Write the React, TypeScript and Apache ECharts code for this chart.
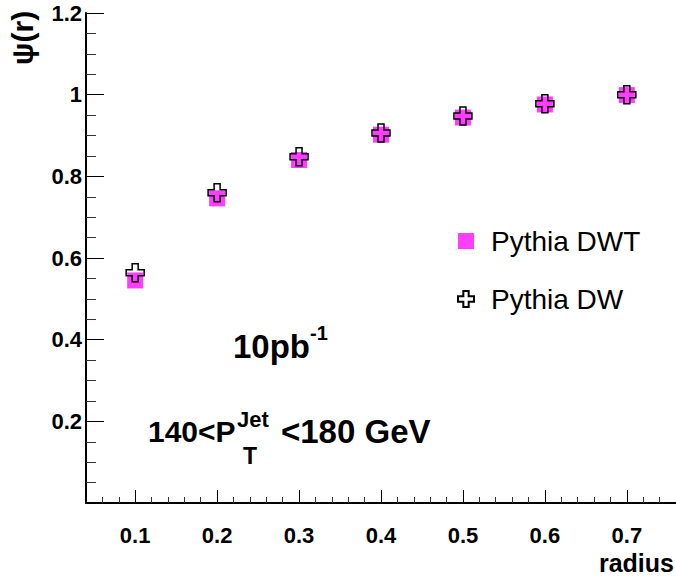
import React, { useEffect, useRef } from "react";
import * as echarts from "echarts";

// Jet shape ψ(r) versus cone radius for two Pythia tunes
const radius = [0.1, 0.2, 0.3, 0.4, 0.5, 0.6, 0.7];
const psiDWT = [0.545, 0.746, 0.84, 0.902, 0.944, 0.976, 0.999];
const psiDW = [0.564, 0.76, 0.848, 0.906, 0.948, 0.978, 1.0];

const seriesNames = ["Pythia DWT", "Pythia DW"];

// Axis ticks
const xMajorTicks = [0.1, 0.2, 0.3, 0.4, 0.5, 0.6, 0.7];
const xMinorTicks = [
  0.06, 0.08, 0.12, 0.14, 0.16, 0.18, 0.22, 0.24, 0.26, 0.28, 0.32, 0.34, 0.36,
  0.38, 0.42, 0.44, 0.46, 0.48, 0.52, 0.54, 0.56, 0.58, 0.62, 0.64, 0.66, 0.68,
  0.72, 0.74,
];
const yTickLabels = ["", "0.2", "0.4", "0.6", "0.8", "1", "1.2"];

const FONT = "'Liberation Sans', Arial, Helvetica, sans-serif";
const MAGENTA = "#ff3dff";
const CROSS = "path://M1 0H2V1H3V2H2V3H1V2H0V1H1Z";

export default function App() {
  const ref = useRef<HTMLDivElement>(null);

  useEffect(() => {
    if (!ref.current) return;
    const chart = echarts.init(ref.current, undefined, { renderer: "svg" });

    const boldText = (text: string, x: number, y: number, size: number, extra: any = {}) => ({
      type: "text",
      x,
      y,
      style: {
        text,
        fill: "#000",
        font: `bold ${size}px ${FONT}`,
        textAlign: "left",
        textVerticalAlign: "middle",
        ...extra,
      },
    });

    chart.setOption({
      animation: false,
      backgroundColor: "#fff",
      grid: { left: 86, top: 13, right: 0, bottom: 74, containLabel: false },
      xAxis: [
        {
          type: "value",
          min: 0.04,
          max: 0.76,
          axisLine: { onZero: false, lineStyle: { color: "#000", width: 2 } },
          axisTick: {
            inside: true,
            length: 13,
            customValues: xMajorTicks,
            lineStyle: { color: "#000", width: 1 },
          },
          axisLabel: {
            customValues: xMajorTicks,
            formatter: (v: number) => v.toFixed(1),
            color: "#000",
            fontFamily: FONT,
            fontWeight: "bold",
            fontSize: 22,
            margin: 21,
          },
          splitLine: { show: false },
        },
        {
          type: "value",
          position: "bottom",
          min: 0.04,
          max: 0.76,
          axisLine: { show: false },
          axisTick: {
            inside: true,
            length: 6,
            customValues: xMinorTicks,
            lineStyle: { color: "#333", width: 1 },
          },
          axisLabel: { show: false },
          splitLine: { show: false },
        },
      ],
      yAxis: {
        type: "value",
        min: 0,
        max: 1.2,
        interval: 0.2,
        axisLine: { onZero: false, lineStyle: { color: "#000", width: 2 } },
        axisTick: { inside: true, length: 18, lineStyle: { color: "#000", width: 1 } },
        minorTick: { show: true, splitNumber: 4, length: 10, lineStyle: { color: "#333", width: 1 } },
        axisLabel: {
          formatter: (_v: number, i: number) => yTickLabels[i] ?? "",
          color: "#000",
          fontFamily: FONT,
          fontWeight: "bold",
          fontSize: 22,
          margin: 4,
        },
        splitLine: { show: false },
        minorSplitLine: { show: false },
      },
      legend: {
        orient: "vertical",
        left: 452,
        top: 222,
        itemWidth: 16,
        itemHeight: 16,
        itemGap: 30,
        selectedMode: false,
        textStyle: { fontFamily: FONT, fontSize: 28, color: "#000", padding: [0, 0, 0, 12] },
        data: [
          { name: seriesNames[0], icon: "rect" },
          { name: seriesNames[1], icon: CROSS },
        ],
      },
      series: [
        {
          name: seriesNames[0],
          type: "scatter",
          symbol: "rect",
          symbolSize: 16,
          itemStyle: { color: MAGENTA, opacity: 1 },
          data: radius.map((r, i) => [r, psiDWT[i]]),
        },
        {
          name: seriesNames[1],
          type: "scatter",
          symbol: CROSS,
          symbolSize: 18,
          itemStyle: { color: "rgba(0,0,0,0)", borderColor: "#000", borderWidth: 1.5, opacity: 1 },
          data: radius.map((r, i) => [r, psiDW[i]]),
        },
      ],
      graphic: [
        {
          type: "text",
          x: 22,
          y: 38,
          rotation: Math.PI / 2,
          style: {
            text: "ψ(r)",
            fill: "#000",
            font: `bold 30px ${FONT}`,
            textAlign: "center",
            textVerticalAlign: "middle",
          },
        },
        boldText("radius", 674, 563, 25, { textAlign: "right" }),
        boldText("10pb", 233, 346, 33),
        boldText("-1", 310, 333, 20),
        boldText("140<P", 148, 431, 30),
        boldText("Jet", 237, 419, 22),
        boldText("T", 243, 456, 23),
        boldText("<180 GeV", 281, 431, 33),
      ],
    });

    return () => chart.dispose();
  }, []);

  return (
    <div
      ref={ref}
      style={{ position: "absolute", left: 0, top: 0, width: 676, height: 577 }}
    />
  );
}
